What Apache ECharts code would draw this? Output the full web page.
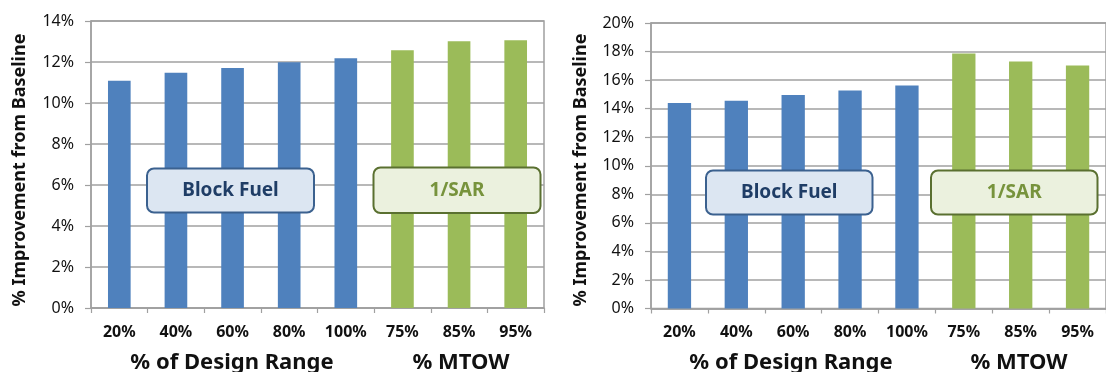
<!DOCTYPE html>
<html>
<head>
<meta charset="utf-8">
<script src="https://cdn.jsdelivr.net/npm/echarts@6/dist/echarts.min.js"></script>
<style>
html,body{margin:0;padding:0;background:#fff;}
#c{width:1106px;height:372px;}
</style>
</head>
<body>
<div id="c"></div>
<script>
// ---- data ----
var categories = ['20%', '40%', '60%', '80%', '100%', '75%', '85%', '95%'];
var groupOf = ['range', 'range', 'range', 'range', 'range', 'mtow', 'mtow', 'mtow'];
var leftValues = [11.09, 11.48, 11.71, 11.99, 12.18, 12.57, 13.01, 13.06];
var rightValues = [14.39, 14.56, 14.95, 15.28, 15.63, 17.87, 17.31, 17.03];
var leftTicks = { min: 0, max: 14, interval: 2 };
var rightTicks = { min: 0, max: 20, interval: 2 };
var yTitle = '% Improvement from Baseline';
var xTitleRange = '% of Design Range';
var xTitleMtow = '% MTOW';
var boxLabelFuel = 'Block Fuel';
var boxLabelSar = '1/SAR';

// ---- styles ----
var BLUE = '#4f81bd', GREEN = '#9bbb59';
var GRID_C = '#a0a0a0';
var FONT = 'Noto Sans';

function barData(vals) {
  return vals.map(function (v, i) {
    return { value: v, itemStyle: { color: groupOf[i] === 'range' ? BLUE : GREEN } };
  });
}
function xAxis(idx) {
  return {
    type: 'category', gridIndex: idx, data: categories,
    axisLine: { show: true, lineStyle: { color: GRID_C, width: 1.5 } },
    axisTick: { show: true, length: 5, lineStyle: { color: GRID_C, width: 1.2 } },
    axisLabel: { margin: 16, color: '#111', fontFamily: FONT, fontWeight: 'bold', fontSize: 16 }
  };
}
function yAxis(idx, t) {
  return {
    type: 'value', gridIndex: idx, min: t.min, max: t.max, interval: t.interval,
    axisLine: { show: true, lineStyle: { color: GRID_C, width: 1.5 } },
    axisTick: { show: true, length: 6, lineStyle: { color: GRID_C, width: 1.2 } },
    splitLine: { show: true, lineStyle: { color: GRID_C, width: 1.5 } },
    axisLabel: { margin: 17, color: '#111', fontFamily: FONT, fontSize: 16,
      formatter: function (v) { return v + '%'; } }
  };
}
function titleText(x, y, text, size, rot) {
  return {
    type: 'text', x: x, y: y, rotation: rot || 0,
    style: { text: text, fill: '#111', font: 'bold ' + size + 'px "' + FONT + '"',
      textAlign: 'center', textVerticalAlign: 'middle' }
  };
}
function box(x, y, w, h, fill, stroke, text, textColor) {
  return [{
    type: 'rect', z: 100,
    shape: { x: x, y: y, width: w, height: h, r: 7 },
    style: { fill: fill, stroke: stroke, lineWidth: 2 }
  }, {
    type: 'text', z: 101, x: x + w / 2, y: y + h / 2,
    style: { text: text, fill: textColor, font: 'bold 19px "' + FONT + '"',
      textAlign: 'center', textVerticalAlign: 'middle' }
  }];
}

var chart = echarts.init(document.getElementById('c'), null, { renderer: 'canvas' });
var graphics = []
  .concat([
    titleText(20, 170, yTitle, 18, Math.PI / 2),
    titleText(581, 170, yTitle, 18, Math.PI / 2),
    titleText(232, 363, xTitleRange, 22),
    titleText(461, 363, xTitleMtow, 22),
    titleText(791, 363, xTitleRange, 22),
    titleText(1019, 363, xTitleMtow, 22)
  ])
  .concat(box(147, 168.5, 167, 44, '#dce6f2', '#3b618f', boxLabelFuel, '#1f3d66'))
  .concat(box(373.5, 167.5, 167, 45.5, '#ebf1de', '#5a7030', boxLabelSar, '#77933c'))
  .concat(box(706, 170.5, 166.5, 44, '#dce6f2', '#3b618f', boxLabelFuel, '#1f3d66'))
  .concat(box(931, 170.5, 166.5, 44, '#ebf1de', '#5a7030', boxLabelSar, '#77933c'));

chart.setOption({
  animation: false,
  backgroundColor: '#fff',
  grid: [
    { left: 91, top: 21, width: 453, height: 287, show: true, borderColor: GRID_C, borderWidth: 1.5 },
    { left: 651, top: 23, width: 467, height: 285.5, show: true, borderColor: GRID_C, borderWidth: 1.5 }
  ],
  xAxis: [xAxis(0), xAxis(1)],
  yAxis: [yAxis(0, leftTicks), yAxis(1, rightTicks)],
  series: [
    { type: 'bar', xAxisIndex: 0, yAxisIndex: 0, barWidth: '40%', data: barData(leftValues) },
    { type: 'bar', xAxisIndex: 1, yAxisIndex: 1, barWidth: '41%', data: barData(rightValues) }
  ],
  graphic: graphics
});
</script>
</body>
</html>
